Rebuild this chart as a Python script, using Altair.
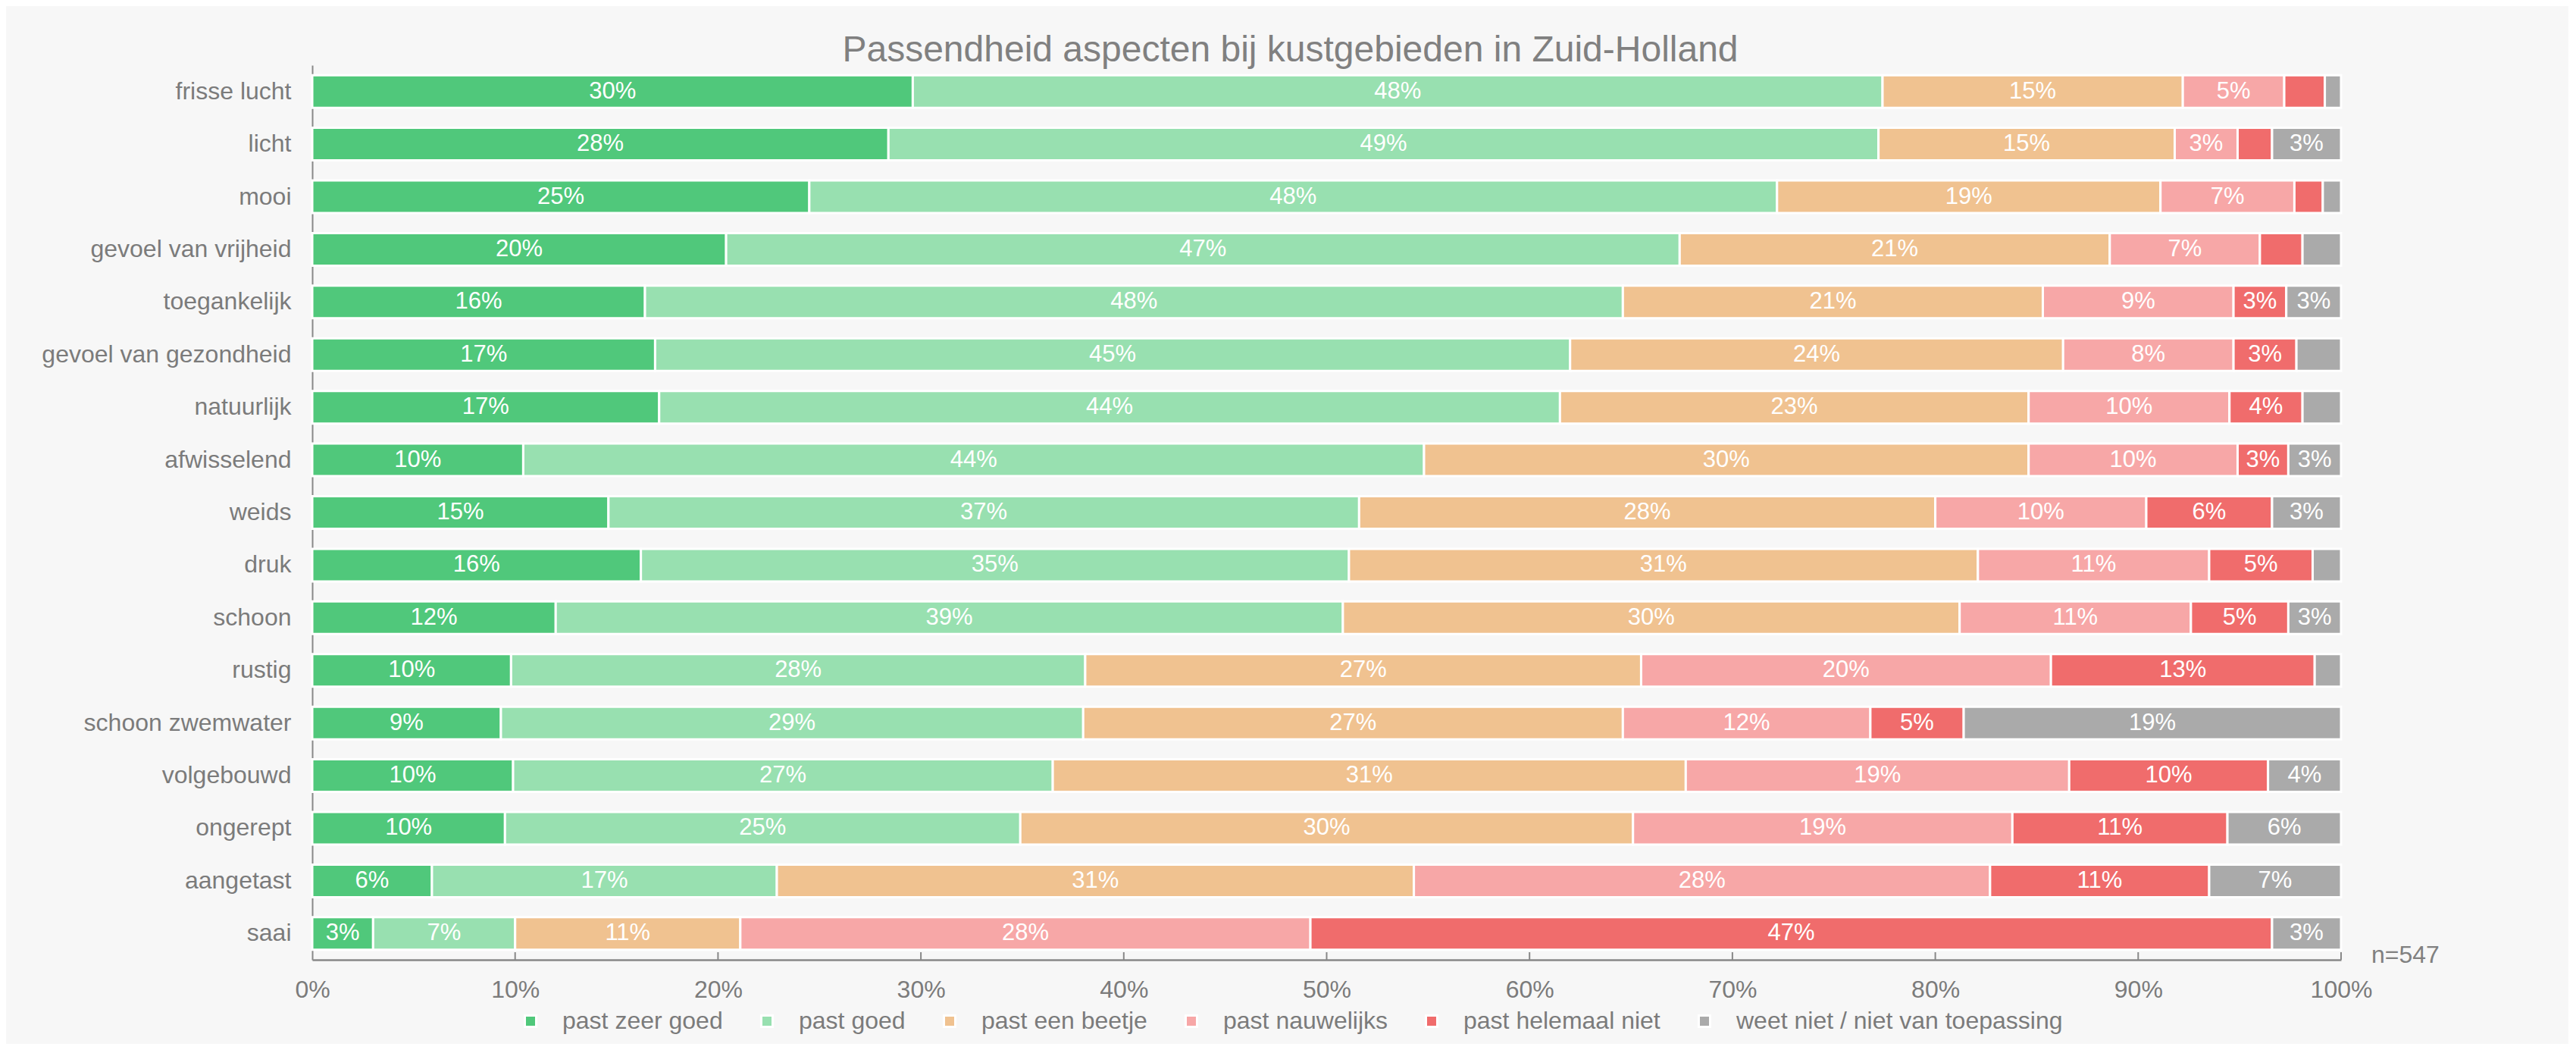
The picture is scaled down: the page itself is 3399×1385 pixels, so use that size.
import math
import altair as alt
import pandas as pd

FONT = "Liberation Sans"

aspects = [
    "frisse lucht", "licht", "mooi", "gevoel van vrijheid", "toegankelijk",
    "gevoel van gezondheid", "natuurlijk", "afwisselend", "weids", "druk",
    "schoon", "rustig", "schoon zwemwater", "volgebouwd", "ongerept",
    "aangetast", "saai",
]
categories = [
    "past zeer goed", "past goed", "past een beetje", "past nauwelijks",
    "past helemaal niet", "weet niet / niet van toepassing",
]
colors = ["#50c87b", "#98e0b0", "#f0c290", "#f7a7a7", "#f06c6c", "#aaaaaa"]

past_zeer_goed = [29.6, 28.4, 24.5, 20.4, 16.4, 16.9, 17.1, 10.4, 14.6, 16.2, 12.0, 9.8, 9.3, 9.9, 9.5, 5.9, 3.0]
past_goed = [47.8, 48.8, 47.7, 47.0, 48.2, 45.1, 44.4, 44.4, 37.0, 34.9, 38.8, 28.3, 28.7, 26.6, 25.4, 17.0, 7.0]
past_een_beetje = [14.8, 14.6, 18.9, 21.2, 20.7, 24.3, 23.1, 29.8, 28.4, 31.0, 30.4, 27.4, 26.6, 31.2, 30.2, 31.4, 11.1]
past_nauwelijks = [5.0, 3.1, 6.6, 7.4, 9.4, 8.4, 9.9, 10.3, 10.4, 11.4, 11.4, 20.2, 12.2, 18.9, 18.7, 28.4, 28.1]
past_helemaal_niet = [2.0, 1.7, 1.4, 2.1, 2.6, 3.1, 3.6, 2.5, 6.2, 5.1, 4.8, 13.0, 4.6, 9.8, 10.6, 10.8, 47.4]
weet_niet = [0.8, 3.4, 0.9, 1.9, 2.7, 2.2, 1.9, 2.6, 3.4, 1.4, 2.6, 1.3, 18.6, 3.6, 5.6, 6.5, 3.4]

tick_values = [10, 20, 30, 40, 50, 60, 70, 80, 90, 100]
axis_values = [0, 10, 20, 30, 40, 50, 60, 70, 80, 90, 100]
n_label = "n=547"
title_text = "Passendheid aspecten bij kustgebieden in Zuid-Holland"

all_series = [past_zeer_goed, past_goed, past_een_beetje, past_nauwelijks, past_helemaal_niet, weet_niet]
rows = []
for i, a in enumerate(aspects):
    for j, (c, series) in enumerate(zip(categories, all_series)):
        v = series[i]
        r = math.floor(v + 0.5)
        rows.append({"aspect": a, "cat": c, "order": j, "value": v,
                     "label": f"{r}%" if r >= 3 else ""})
df = pd.DataFrame(rows)

W, H = 2677, 1180
LABEL_COLOR = "#7b7b7b"
AXIS_COLOR = "#888888"

xscale = alt.Scale(domain=[0, 100], nice=False, zero=True)
yscale = alt.Scale(paddingInner=0.38, paddingOuter=0.19)

x_axis = alt.Axis(
    title=None, values=axis_values, labelExpr="datum.value + '%'", ticks=False,
    grid=False, labelFontSize=32, labelColor=LABEL_COLOR, labelPadding=24,
    labelFlush=False, labelFont=FONT, domainColor=AXIS_COLOR, domainWidth=2.5)
y_axis = alt.Axis(
    title=None, labelFontSize=32, labelColor=LABEL_COLOR, labelPadding=28,
    ticks=False, grid=False, labelFont=FONT, labelLimit=0,
    domainColor=AXIS_COLOR, domainWidth=2)

base = alt.Chart(df).transform_stack(
    stack="value", groupby=["aspect"], as_=["x0", "x1"], sort=[alt.SortField("order")]
).transform_calculate(mid="(datum.x0 + datum.x1) / 2")

bars = base.mark_bar(stroke="white", strokeWidth=3, size=43).encode(
    x=alt.X("x0:Q", scale=xscale, axis=x_axis),
    x2="x1:Q",
    y=alt.Y("aspect:N", sort=aspects, scale=yscale, axis=y_axis),
    color=alt.Color("cat:N", scale=alt.Scale(domain=categories, range=colors),
                    legend=alt.Legend(
                        title=None, orient="none", legendX=272, legendY=1245,
                        direction="horizontal", symbolType="square", symbolSize=225,
                        symbolStrokeColor="white", symbolStrokeWidth=3,
                        labelFontSize=32, labelColor=LABEL_COLOR, labelOffset=26,
                        columnPadding=42, labelFont=FONT, labelLimit=0)),
    order=alt.Order("order:Q"),
)

text = base.mark_text(color="white", fontSize=31, baseline="middle", font=FONT).encode(
    x=alt.X("mid:Q", scale=xscale, axis=x_axis),
    y=alt.Y("aspect:N", sort=aspects, scale=yscale, axis=y_axis),
    text="label:N",
)

ticks = alt.Chart(pd.DataFrame({"t": tick_values})).mark_rule(
    color=AXIS_COLOR, strokeWidth=2).encode(
    x=alt.X("t:Q", scale=xscale, axis=x_axis),
    y=alt.value(H - 10),
    y2=alt.value(H),
)

ntext = alt.Chart(pd.DataFrame({"n": [n_label], "pos": [100]})).mark_text(
    align="left", baseline="alphabetic", fontSize=32, color="#808080", font=FONT,
    dx=40, dy=4).encode(
    x=alt.X("pos:Q", scale=xscale, axis=x_axis),
    y=alt.value(H),
    text="n:N",
)

chart = alt.layer(bars, text, ticks, ntext).properties(
    width=W, height=H,
    title=alt.TitleParams(title_text, fontSize=48, color="#808080", font=FONT,
                          fontWeight="normal", anchor="middle", dx=-48, dy=49,
                          baseline="alphabetic", offset=6),
    autosize=alt.AutoSizeParams(type="none"),
    padding={"left": 404, "top": 78, "right": 300, "bottom": 111},
    background="#f7f7f7",
).configure_view(stroke=None)

chart.save("out.html", embed_options={"renderer": "svg", "actions": False})
